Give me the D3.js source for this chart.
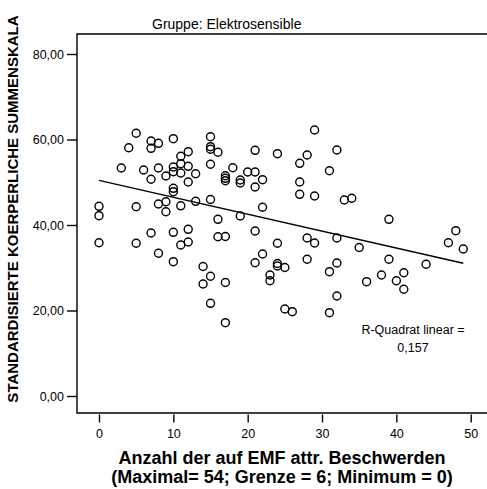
<!DOCTYPE html>
<html>
<head>
<meta charset="utf-8">
<script src="https://cdn.jsdelivr.net/npm/d3@7"></script>
<style>
  html, body { margin: 0; padding: 0; background: #fff; }
  svg { display: block; font-family: "Liberation Sans", Arial, sans-serif; }
</style>
</head>
<body>
<svg id="chart" width="487" height="489"></svg>
<script>
// ---- data ----
const anzahl = [5,4,7,7,8,10,15,15,15,16,11,12,21,24,29,28,27,32,31,3,6,8,10,10,11,11,12,13,9,7,12,15,18,17,17,17,19,19,20,21,22,21,27,27,29,10,10,0,0,5,8,9,9,11,13,15,22,19,16,33,34,39,0,5,7,10,12,11,12,21,16,17,24,28,29,32,35,48,47,49,8,10,22,21,24,24,25,28,32,31,23,23,14,15,14,17,15,17,32,31,25,26,39,38,36,41,40,41,44];
const skala = [61.45,58.08,59.65,57.94,59.11,60.19,60.65,58.32,57.71,57.01,56.07,57.15,57.47,56.68,62.22,56.37,54.43,57.54,52.70,53.33,52.87,53.33,53.57,52.47,54.34,52.16,53.73,52.00,51.46,50.69,50.06,54.20,53.40,51.53,50.92,50.36,50.53,49.82,52.40,52.40,50.60,48.89,50.06,47.18,46.78,48.58,47.79,44.37,42.18,44.28,44.91,45.45,43.11,44.49,45.54,45.96,44.14,42.11,41.33,45.85,46.25,41.33,35.86,35.72,38.13,38.29,38.99,35.32,36.02,38.60,37.26,37.31,35.72,36.96,35.79,36.96,34.74,38.67,35.86,34.39,33.38,31.42,33.22,31.18,30.99,30.41,30.06,31.98,31.11,29.08,28.30,26.97,30.29,28.00,26.20,26.55,21.68,17.15,23.39,19.49,20.35,19.72,31.98,28.30,26.74,28.84,26.97,24.96,30.81];
const fitX = [0, 49];
const fitY = [50.45, 31.04];
const xTicks = [0, 10, 20, 30, 40, 50];
const yTicks = [0, 20, 40, 60, 80];
const titleText = "Gruppe: Elektrosensible";
const xTitle = ["Anzahl der auf EMF attr. Beschwerden", "(Maximal= 54; Grenze = 6; Minimum = 0)"];
const yTitle = "STANDARDISIERTE KOERPERLICHE SUMMENSKALA";
const rsqLines = ["R-Quadrat linear =", "0,157"];

// ---- layout ----
const svg = d3.select("#chart");
const frame = {left: 77, top: 34, right: 487, bottom: 413};
const x = d3.scaleLinear().domain([0, 50]).range([99, 470.7]);
const y = d3.scaleLinear().domain([0, 80]).range([396, 54]);
const fmt = v => d3.format(".2f")(v).replace(".", ",");

// frame
svg.append("path")
  .attr("d", `M${frame.right},${frame.top}H${frame.left}V${frame.bottom}H${frame.right}`)
  .attr("fill", "none").attr("stroke", "#000").attr("stroke-width", 1.4);

// y axis
const gy = svg.append("g").attr("transform", `translate(${frame.left},0)`)
  .call(d3.axisLeft(y).tickValues(yTicks).tickFormat(fmt).tickSize(10).tickPadding(3));
gy.select(".domain").remove();
gy.selectAll(".tick line").attr("stroke", "#000").attr("stroke-width", 1.4);
gy.selectAll(".tick text").attr("font-size", "12.5px").attr("fill", "#000")
  .attr("font-family", "Liberation Sans, Arial, sans-serif");

// x axis
const gx = svg.append("g").attr("transform", `translate(0,${frame.bottom + 1.5})`)
  .call(d3.axisBottom(x).tickValues(xTicks).tickFormat(d3.format("d")).tickSize(8).tickPadding(7));
gx.select(".domain").remove();
gx.selectAll(".tick line").attr("stroke", "#000").attr("stroke-width", 1.4);
gx.selectAll(".tick text").attr("font-size", "12.5px").attr("fill", "#000")
  .attr("font-family", "Liberation Sans, Arial, sans-serif");

// points
const pts = anzahl.map((a, i) => ({a, s: skala[i]}));
svg.append("g").selectAll("circle").data(pts).join("circle")
  .attr("cx", d => x(d.a)).attr("cy", d => y(d.s)).attr("r", 4)
  .attr("fill", "none").attr("stroke", "#000").attr("stroke-width", 1.4);

// fit line
svg.append("line")
  .attr("x1", x(fitX[0])).attr("y1", y(fitY[0]))
  .attr("x2", x(fitX[1])).attr("y2", y(fitY[1]))
  .attr("stroke", "#000").attr("stroke-width", 1.4);

// R-squared annotation
svg.append("g").selectAll("text").data(rsqLines).join("text")
  .attr("x", 413).attr("y", (d, i) => 334 + i * 17.5)
  .attr("text-anchor", "middle").attr("font-size", "12.5px").attr("fill", "#000")
  .text(d => d);

// title
svg.append("text").attr("x", 152).attr("y", 29)
  .attr("font-size", "14px").attr("fill", "#000").text(titleText);

// x title
svg.append("g").selectAll("text").data(xTitle).join("text")
  .attr("x", 282).attr("y", (d, i) => 463.5 + i * 19.5)
  .attr("text-anchor", "middle").attr("font-size", "18px").attr("font-weight", "bold")
  .attr("fill", "#000").text(d => d);

// y title
svg.append("text")
  .attr("transform", "translate(18,209) rotate(-90)")
  .attr("text-anchor", "middle").attr("font-size", "15px").attr("font-weight", "bold")
  .attr("fill", "#000").text(yTitle);
</script>
</body>
</html>
